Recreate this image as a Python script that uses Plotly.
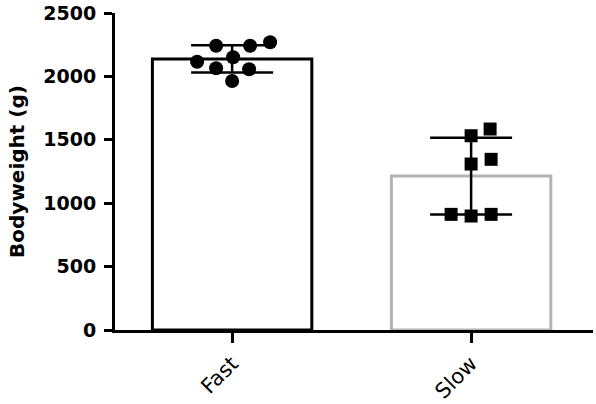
import numpy as np
import plotly.graph_objects as go

# Bodyweight per animal, grouped by growth type
CATEGORIES = ["Fast", "Slow"]
FAST_VALUES = [2242, 2151, 2064, 2116, 1964, 2242, 2056, 2269]
SLOW_VALUES = [1585, 1532, 1346, 1309, 912, 899, 912]
Y_TICKS = [0, 500, 1000, 1500, 2000, 2500]

W, H = 596, 404
MARGIN = dict(l=115, r=3, t=13, b=74)
X_RANGE = [-0.49, 1.51]
Y_RANGE = [0, 2500]

px_x = (W - MARGIN["l"] - MARGIN["r"]) / (X_RANGE[1] - X_RANGE[0])
px_y = (H - MARGIN["t"] - MARGIN["b"]) / (Y_RANGE[1] - Y_RANGE[0])


def swarm(center, values, dist=20.0):
    # simple beeswarm: place each point at the smallest offset that doesn't overlap
    placed = []
    xs = [0.0] * len(values)
    order = np.argsort(values)
    for i in order:
        y = values[i] * px_y
        k = 0
        while True:
            cand = (k + 1) // 2 * (1 if k % 2 else -1) * 1.0
            if all((cand - px) ** 2 + (y - py) ** 2 >= dist ** 2 for px, py in placed):
                break
            k += 1
        placed.append((cand, y))
        xs[i] = center + cand / px_x
    return xs


groups = [FAST_VALUES, SLOW_VALUES]
means = [float(np.mean(v)) for v in groups]
sds = [float(np.std(v, ddof=1)) for v in groups]

fig = go.Figure()
fig.add_trace(go.Bar(
    x=[0, 1], y=means, width=0.667,
    marker=dict(color="white", line=dict(color=["black", "#b4b4b4"], width=3)),
    error_y=dict(type="data", array=sds, visible=True, color="black", thickness=2.5, width=41),
    showlegend=False,
))
fig.add_trace(go.Scatter(
    x=swarm(0, FAST_VALUES), y=FAST_VALUES, mode="markers",
    marker=dict(symbol="circle", size=14, color="black"), showlegend=False,
))
fig.add_trace(go.Scatter(
    x=swarm(1, SLOW_VALUES), y=SLOW_VALUES, mode="markers",
    marker=dict(symbol="square", size=13, color="black"), showlegend=False,
))

fig.update_layout(
    width=W, height=H, margin=MARGIN,
    plot_bgcolor="white", paper_bgcolor="white",
    font=dict(family="DejaVu Sans", color="black"),
)
fig.update_xaxes(
    range=X_RANGE, tickmode="array", tickvals=[0, 1], ticktext=CATEGORIES,
    tickangle=-45, tickfont=dict(size=21, family="DejaVu Sans"),
    showline=True, linecolor="black", linewidth=3,
    ticks="outside", ticklen=10, tickwidth=3, tickcolor="black",
    showgrid=False, zeroline=False, automargin=False,
)
fig.update_yaxes(
    range=Y_RANGE, tickmode="array", tickvals=Y_TICKS,
    tickfont=dict(size=19, family="DejaVu Sans", weight="bold"), ticklabelstandoff=4,
    title=dict(text="Bodyweight (g)", font=dict(size=20, family="DejaVu Sans", weight="bold"), standoff=14),
    showline=True, linecolor="black", linewidth=3,
    ticks="outside", ticklen=8, tickwidth=3, tickcolor="black",
    showgrid=False, zeroline=False, automargin=False,
)

# drop the page's default 8px body margin so the figure sits at the corner
fig.write_html("out.html", config={"displayModeBar": False},
               post_script="document.body.style.margin='0';")
